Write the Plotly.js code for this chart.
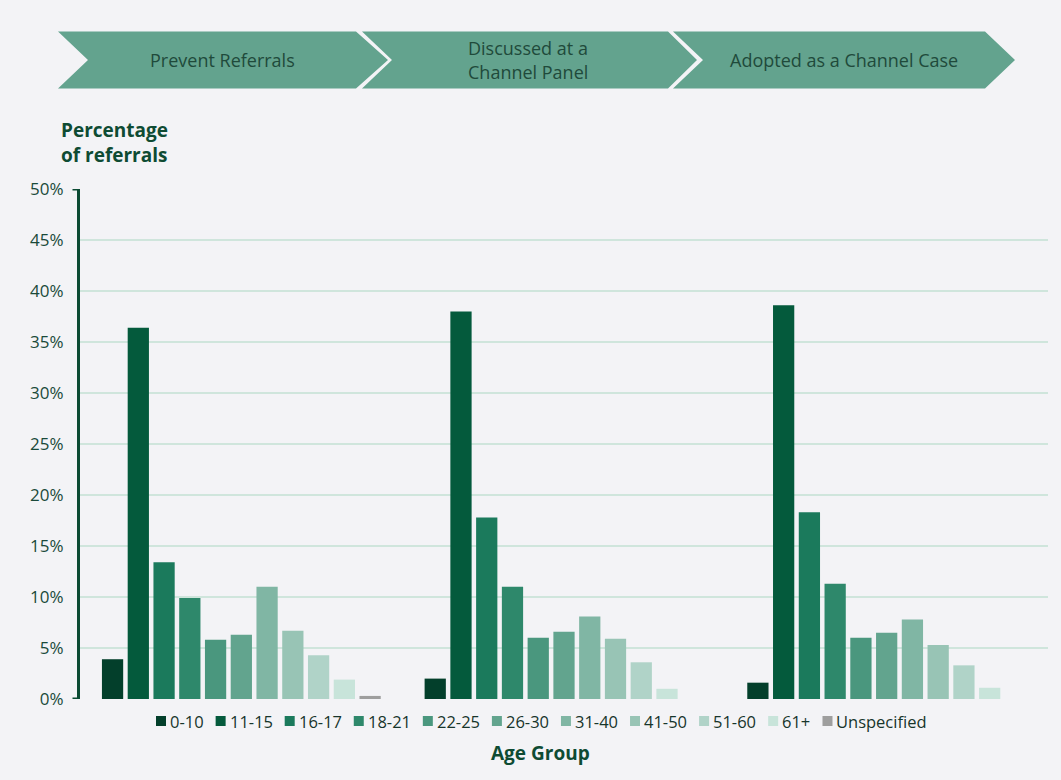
<!DOCTYPE html>
<html>
<head>
<meta charset="utf-8">
<script src="https://cdn.plot.ly/plotly-3.0.1.min.js"></script>
<style>
  html, body { margin: 0; padding: 0; background: #f3f3f6; }
  #chart { width: 1061px; height: 780px; }
</style>
</head>
<body>
<div id="chart"></div>
<script>
// Referral stages (drawn in the chevron banner above the bars)
const stages = ['Prevent Referrals', 'Discussed at a<br>Channel Panel', 'Adopted as a Channel Case'];

// Age groups, one bar series each
const ageGroups = ['0-10', '11-15', '16-17', '18-21', '22-25', '26-30', '31-40', '41-50', '51-60', '61+', 'Unspecified'];

// Percentage of referrals per stage for each age group
const age0to10   = [3.9, 2.0, 1.6];
const age11to15  = [36.4, 38.0, 38.6];
const age16to17  = [13.4, 17.8, 18.3];
const age18to21  = [9.9, 11.0, 11.3];
const age22to25  = [5.8, 6.0, 6.0];
const age26to30  = [6.3, 6.6, 6.5];
const age31to40  = [11.0, 8.1, 7.8];
const age41to50  = [6.7, 5.9, 5.3];
const age51to60  = [4.3, 3.6, 3.3];
const age61plus  = [1.9, 1.0, 1.1];
const ageUnspec  = [0.3, 0, 0];

const seriesValues = [age0to10, age11to15, age16to17, age18to21, age22to25,
                      age26to30, age31to40, age41to50, age51to60, age61plus, ageUnspec];

// Y axis ticks
const yTickVals = [0, 5, 10, 15, 20, 25, 30, 35, 40, 45, 50];
const yTickText = yTickVals.map(v => v + '%');

const palette = ['#033f2b', '#045a3c', '#1b7a5c', '#2e886b', '#4a977e', '#62a48e',
                 '#80b6a4', '#98c4b5', '#b0d3c8', '#c8e4da', '#9e9e9e'];

const traces = ageGroups.map((name, i) => ({
  type: 'bar',
  name: name,
  x: stages,
  y: seriesValues[i],
  marker: { color: palette[i], line: { width: 0 } },
  hoverinfo: 'skip'
}));

// Page geometry helpers: plot area spans x 80..1048, y 189..699 (px)
const W = 1061, H = 780;
const M = { l: 80, r: 13, t: 189, b: 81 };
const PW = W - M.l - M.r, PH = H - M.t - M.b;
const px = x => (x - M.l) / PW;
const py = y => (H - M.b - y) / PH;

const FONT = 'Open Sans';

// Chevron banner
const chevronFill = '#63a38e';
function chevron(x0, x1, tip, notch, top, bottom) {
  const mid = (top + bottom) / 2;
  const pts = [[x0, top], [x1, top], [tip, mid], [x1, bottom], [x0, bottom], [notch, mid]];
  return {
    type: 'path', xref: 'paper', yref: 'paper', layer: 'above',
    path: 'M' + pts.map(p => px(p[0]).toFixed(5) + ',' + py(p[1]).toFixed(5)).join('L') + 'Z',
    fillcolor: chevronFill, line: { width: 0 }
  };
}
const shapes = [
  chevron(58, 356, 388, 88, 31.5, 88.5),
  chevron(362, 668, 697, 392, 31.5, 88.5),
  chevron(673, 985, 1015, 703, 31.5, 88.5),
  // short end ticks on the value axis
  { type: 'line', xref: 'paper', yref: 'y', x0: px(72.5), x1: px(78), y0: 0, y1: 0,
    line: { color: '#0b4a33', width: 3 } },
  { type: 'line', xref: 'paper', yref: 'y', x0: px(72.5), x1: px(78), y0: 50, y1: 50,
    line: { color: '#0b4a33', width: 3 } }
];

const annotations = [];
function note(text, x, y, opts) {
  annotations.push(Object.assign({
    text: text, xref: 'paper', yref: 'paper', x: px(x), y: py(y),
    showarrow: false, xanchor: 'center', yanchor: 'middle', align: 'center'
  }, opts));
}

// Stage names inside the chevrons (two-line names are spaced line by line)
const bannerFont = { family: FONT, size: 18, color: '#1f4a3b' };
const stageCentres = [222, 528, 844];
stages.forEach((s, i) => {
  const lines = s.split('<br>');
  const gap = 25;
  lines.forEach((ln, k) => {
    note(ln, stageCentres[i], 60 + (k - (lines.length - 1) / 2) * gap, { font: bannerFont });
  });
});

// Axis titles
note('<b>Percentage<br>of referrals</b>', 59, 142,
     { xanchor: 'left', align: 'left', font: { family: FONT, size: 19, color: '#0e4b33' } });
note('<b>Age Group</b>', 540, 753, { font: { family: FONT, size: 19, color: '#0e4b33' } });

// Compact one-row key for the age groups
const keyFont = { family: FONT, size: 16.5, color: '#17352b' };
const ctx = document.createElement('canvas').getContext('2d');
ctx.font = keyFont.size + 'px "' + FONT + '"';
const keyWidths = ageGroups.map(g => ctx.measureText(g).width);
const keyStart = 156, keyEnd = 926, keyY = 721, sq = 10, sqGap = 3;
const used = keyWidths.reduce((a, w) => a + sq + sqGap + w, 0);
const spacing = (keyEnd - keyStart - used) / (ageGroups.length - 1);
let kx = keyStart;
ageGroups.forEach((g, i) => {
  shapes.push({
    type: 'rect', xref: 'paper', yref: 'paper',
    x0: px(kx), x1: px(kx + sq), y0: py(keyY + sq / 2), y1: py(keyY - sq / 2),
    fillcolor: palette[i], line: { width: 0 }
  });
  note(g, kx + sq + sqGap - 1, keyY, { xanchor: 'left', align: 'left', font: keyFont });
  kx += sq + sqGap + keyWidths[i] + spacing;
});

const layout = {
  width: W, height: H,
  margin: M,
  paper_bgcolor: '#f3f3f6',
  plot_bgcolor: '#f3f3f6',
  barmode: 'group',
  bargap: 0.122,
  bargroupgap: 0.175,
  font: { family: FONT, color: '#1a4a3a' },
  xaxis: {
    showticklabels: false, showgrid: false, zeroline: false, showline: false, ticks: ''
  },
  yaxis: {
    range: [0, 50], tickvals: yTickVals, ticktext: yTickText,
    showgrid: true, gridcolor: '#cfe5dc', gridwidth: 2,
    zeroline: false, showline: true, linecolor: '#0b4a33', linewidth: 3,
    ticks: '', ticklabelstandoff: 10,
    tickfont: { family: FONT, size: 17, color: '#1a4a3a' }
  },
  showlegend: false,
  shapes: shapes,
  annotations: annotations
};

Plotly.newPlot('chart', traces, layout, { displayModeBar: false, staticPlot: true });
</script>
</body>
</html>
